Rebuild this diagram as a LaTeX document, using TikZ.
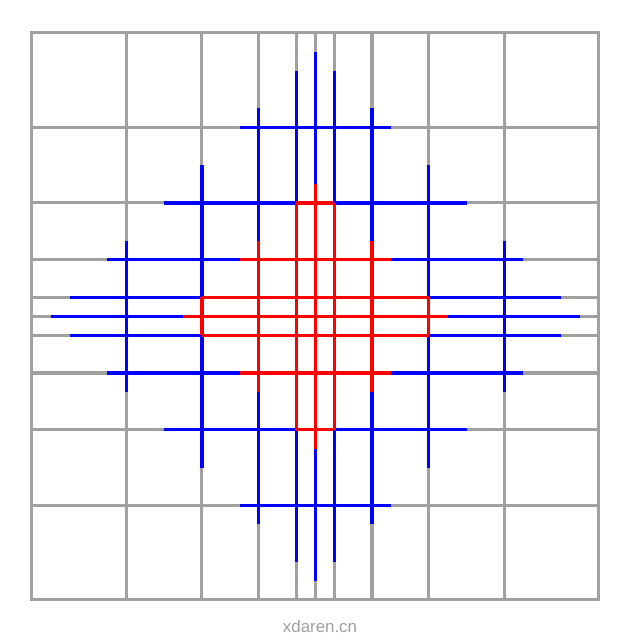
\documentclass[tikz,border=0pt]{standalone}
\usepackage{fontspec}
\setmainfont{Liberation Sans}
\definecolor{gridgray}{RGB}{160,160,160}
\definecolor{bl}{RGB}{0,0,255}
\definecolor{rd}{RGB}{255,0,0}
\begin{document}
\begin{tikzpicture}[x=0.025cm,y=-0.025cm,
  gridline/.style={draw=gridgray,line width=2.2pt},
  blueline/.style={draw=bl,line width=2.4pt},
  redline/.style={draw=rd,line width=2.4pt},
  mark text/.style={text=gray!75,font=\fontsize{12}{14}\selectfont,inner sep=0pt}]
\useasboundingbox (0,0) rectangle (640,640);
\def\cx{315.3}\def\cy{316.3}\def\u{18.9}
% gray grid
\foreach \p in {-10,-6,-3,-1,0,1,3,6,10}{
  \draw[gridline] (\cx+\p*\u,\cy-15*\u) -- (\cx+\p*\u,\cy+15*\u);
  \draw[gridline] (\cx-15*\u,\cy+\p*\u) -- (\cx+15*\u,\cy+\p*\u);
}
\draw[gridline] (\cx-15*\u,\cy-15*\u) rectangle (\cx+15*\u,\cy+15*\u);
% blue diamond |x|+|y|<=14
\foreach \p/\e in {0/14,1/13,-1/13,3/11,-3/11,6/8,-6/8,10/4,-10/4}{
  \draw[blueline] (\cx+\p*\u,\cy-\e*\u) -- (\cx+\p*\u,\cy+\e*\u);
  \draw[blueline] (\cx-\e*\u,\cy+\p*\u) -- (\cx+\e*\u,\cy+\p*\u);
}
% red diamond |x|+|y|<=7
\foreach \p/\e in {0/7,1/6,-1/6,3/4,-3/4,6/1,-6/1}{
  \draw[redline] (\cx+\p*\u,\cy-\e*\u) -- (\cx+\p*\u,\cy+\e*\u);
  \draw[redline] (\cx-\e*\u,\cy+\p*\u) -- (\cx+\e*\u,\cy+\p*\u);
}
\node[mark text] (wm) at (320,626) {xdaren.cn};
\end{tikzpicture}
\end{document}
